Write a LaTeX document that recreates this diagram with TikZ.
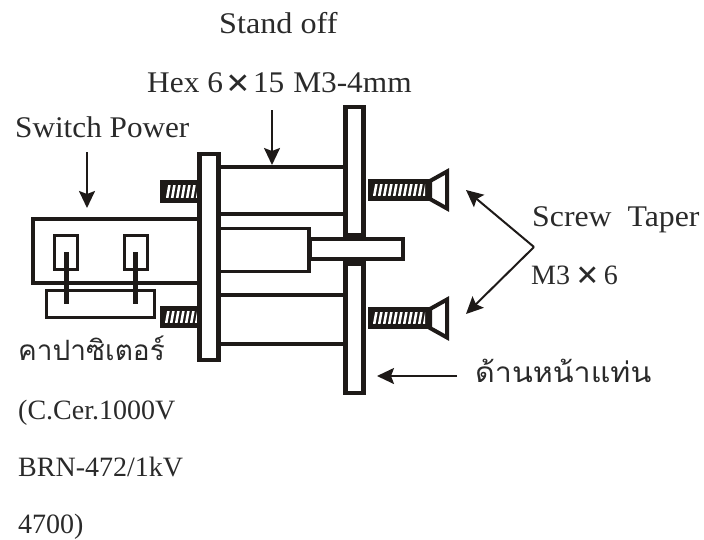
\documentclass[tikz,border=0pt]{standalone}
\usepackage{fontspec}
\setmainfont{Liberation Serif}
\newfontfamily\thaifont[Script=Thai]{Loma}
\usetikzlibrary{arrows.meta}
\definecolor{ink}{HTML}{1E1A18}
\definecolor{txt}{HTML}{2A2A2A}
\newcommand{\hatchbar}[6]{% x0 y0 x1 y1 (outer), inner x0 x1
  \fill[ink] (#1,#2) rectangle (#3,#4);
  \begin{scope}
    \clip (#5,#2+5.5) rectangle (#6,#4-5.5);
    \foreach \hx in {-10,-5,...,60}{
      \fill[white] (#5+\hx-1,#4) -- (#5+\hx+1.6,#4) -- (#5+\hx+5.6,#2) -- (#5+\hx+3,#2) -- cycle;
    }
  \end{scope}
}
\newcommand{\bigtimes}{{\fontsize{40}{40}\selectfont\bfseries\raisebox{-4.5pt}{×}}}
\tikzset{
  thick line/.style={draw=ink,line width=4pt},
  mid line/.style={draw=ink,line width=3.4pt},
  plate/.style={draw=ink,fill=white,line width=4.4pt},
  pointer/.style={draw=ink,line width=2pt,-{Stealth[length=17pt,width=16pt,inset=3pt]}},
  label/.style={anchor=base west,inner sep=0pt,text=txt,font=\fontsize{28}{28}\selectfont},
  biglabel/.style={label,font=\fontsize{30}{30}\selectfont},
  thailabel/.style={anchor=base west,inner sep=0pt,text=txt,font=\fontsize{28}{28}\selectfont\thaifont},
}
\begin{document}
\begin{tikzpicture}[x=1pt,y=-1pt]
\useasboundingbox (0,0) rectangle (704,539);
% switch box
\draw[mid line,line width=3.6pt] (198,219) -- (33,219) -- (33,283) -- (198,283);
% terminals
\draw[mid line,line width=3pt] (54.5,235) rectangle (77.5,269);
\draw[mid line,line width=3pt] (124.5,235) rectangle (147.5,269);
% capacitor
\draw[mid line,line width=3pt] (46.5,290) rectangle (154.5,317);
% pins
\draw[draw=ink,line width=5pt] (66,252) -- (66,304);
\draw[draw=ink,line width=5pt] (135,252) -- (135,304);
% rear screw stubs
\hatchbar{160}{180}{199}{203}{166}{197}
\hatchbar{159.5}{306}{199}{328}{165}{197}
% stand-offs
\draw[thick line] (219,167) -- (345,167);
\draw[thick line] (219,214) -- (345,214);
\draw[thick line] (219,295) -- (345,295);
\draw[thick line] (219,344) -- (345,344);
% centre block
\draw[mid line] (219,228.5) -- (309,228.5) -- (309,271.5) -- (219,271.5);
% plates
\draw[plate] (199.5,154) rectangle (218.5,360);
\draw[plate] (345.5,107) rectangle (363.5,393);
\fill[ink] (343.2,233) rectangle (365.8,266);
\draw[plate,line width=4pt] (310,239) rectangle (403,259);
\fill[white] (348,241) rectangle (361,257);
% front screws
\hatchbar{368}{179}{429}{201}{373}{425}
\hatchbar{368}{307}{429}{329}{373}{425}
\draw[thick line,fill=white,line join=miter,miter limit=10] (430,181) -- (447,171.5) -- (447,208.5) -- (430,199) -- cycle;
\draw[thick line,fill=white,line join=miter,miter limit=10] (430,309) -- (447,299.5) -- (447,337.5) -- (430,328) -- cycle;
% label nodes
\node[biglabel] (standoff) at (219,33) {\scalebox{1.073}[1]{Stand off}};
\node[biglabel] (hex) at (147,92) {\scalebox{1.045}[1]{Hex 6\hspace{3pt}\bigtimes\hspace{3pt}15\hspace{1pt} M3-4mm}};
\node[biglabel] (switch) at (15,137) {\scalebox{1.04}[1]{Switch Power}};
\node[biglabel] (screw) at (532,226) {\scalebox{1.06}[1]{Screw\ \ Taper}};
\node[label] (m3) at (531,284) {M3\hspace{6pt}\bigtimes\hspace{5pt}6};
\node[thailabel] (cap) at (18,360) {คาปาซิเตอร์};
\node[thailabel] (front) at (475,382) {\scalebox{1.087}[1]{ด้านหน้าแท่น}};
\node[label] (cer) at (18,419) {(C.Cer.1000V};
\node[label] (brn) at (18,476) {BRN-472/1kV};
\node[label] (val) at (18,533) {4700)};
% pointers
\coordinate (a1s) at (272,110); \coordinate (a1e) at (272,165);
\coordinate (a2s) at (87,152); \coordinate (a2e) at (87,208);
\coordinate (a3s) at (457,376); \coordinate (a3e) at (377,376);
\coordinate (v) at (534,247); \coordinate (t1) at (466,190); \coordinate (t2) at (466,314);
\draw[pointer] (a1s) -- (a1e);
\draw[pointer] (a2s) -- (a2e);
\draw[pointer] (a3s) -- (a3e);
\draw[pointer] (v) -- (t1);
\draw[pointer] (v) -- (t2);
\end{tikzpicture}
\end{document}
